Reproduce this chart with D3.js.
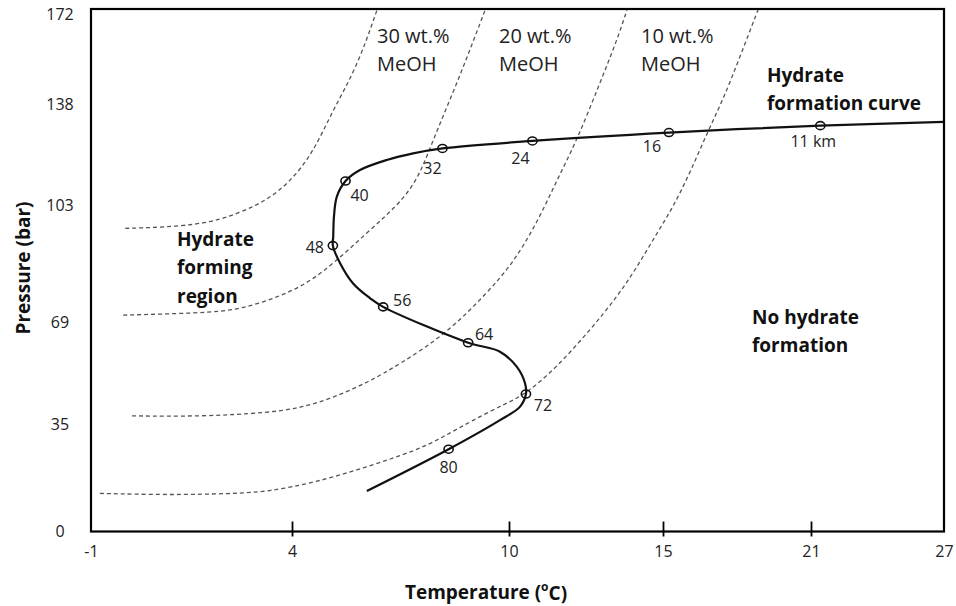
<!DOCTYPE html>
<html>
<head>
<meta charset="utf-8">
<script src="https://cdnjs.cloudflare.com/ajax/libs/d3/7.8.5/d3.min.js"></script>
<style>
  html, body { margin: 0; padding: 0; background: #fff; }
  svg { display: block; font-family: "Open Sans", sans-serif; }
</style>
</head>
<body>
<svg id="chart" width="956" height="606"></svg>
<script>
"use strict";

// tick values -- the temperature axis of the figure is not evenly spaced
const xTicks = [-1, 4, 10, 15, 21, 27]
const yTicks = [0, 35, 69, 103, 138, 172]

// hydrate formation curve along the line, deep end (80 km) first
const curveTemp = [6.07, 8.33, 9.75, 10.36, 10.55, 10.52, 10.25, 9.75, 8.87,
  6.52, 6.16, 5.69, 5.33, 5.13, 5.14, 5.16, 5.24, 5.48, 5.88, 6.62, 7.35, 8.16, 10.76, 15.24, 21.42, 27]
const curvePres = [13.2, 26.8, 36.3, 40.8, 45.0, 48.6, 54.1, 59.1, 62.1,
  73.4, 75.9, 80.2, 86.1, 91.2, 93.8, 99.6, 105.9, 111.3, 115.1, 118.6, 120.9, 122.6, 125.2, 128.1, 130.5, 131.8]

// distance markers on the curve
const markerLabels = ['80', '72', '64', '56', '48', '40', '32', '24', '16', '11 km']
const markerTemp = [8.33, 10.55, 8.87, 6.52, 5.13, 5.48, 8.16, 10.76, 15.24, 21.42]
const markerPres = [26.8, 45.0, 62.1, 73.4, 91.2, 111.3, 122.6, 125.2, 128.1, 130.5]

// methanol-inhibited hydrate lines (dashed), left to right
const dash1Temp = [-0.15, 1.71, 2.71, 3.38, 3.95, 4.58, 5.13, 5.80, 6.35]
const dash1Pres = [96.2, 96.9, 100.7, 104.7, 111.0, 121.0, 135.9, 152.0, 173.5]

const dash2Temp = [-0.20, 1.71, 2.71, 3.95, 4.86, 6.07, 7.18, 7.62, 7.90, 8.45, 8.92, 9.34]
const dash2Pres = [71.0, 71.6, 72.5, 77.4, 83.2, 94.9, 105.8, 116.2, 125.5, 142.2, 158.4, 173.5]

const dash3Temp = [0.02, 1.71, 3.38, 4.22, 5.13, 6.07, 6.99, 8.29, 9.39, 10.13, 10.91, 11.56, 12.21, 12.95, 13.51, 13.83]
const dash3Pres = [37.7, 37.5, 38.7, 40.3, 43.7, 48.7, 55.0, 65.3, 77.4, 86.1, 97.8, 111.7, 125.5, 145.9, 162.2, 173.5]

const dash4Temp = [-0.78, 0.97, 2.46, 3.38, 4.69, 6.07, 7.46, 8.17, 9.00, 9.94, 10.55, 11.56, 12.63,
  13.51, 14.16, 14.81, 15.41, 16.09, 16.82, 17.43, 18.12, 18.85]
const dash4Pres = [12.4, 11.9, 12.3, 12.9, 16.1, 21.0, 26.5, 30.7, 36.3, 42.0, 45.0, 54.0, 66.3,
  76.3, 85.0, 94.9, 102.4, 114.1, 128.6, 139.5, 155.8, 173.5]

const meohLabels = ['30 wt.%', '20 wt.%', '10 wt.%']
const regionLabels = [['Hydrate', 'forming', 'region'], ['No hydrate', 'formation'], ['Hydrate', 'formation curve']]

const xTitle = 'Temperature ('
const yTitle = 'Pressure (bar)'

const frame = { left: 91, top: 9, right: 944, bottom: 531.5 }

const svg = d3.select('#chart')

svg.append('rect')
  .attr('width', 956).attr('height', 606).attr('fill', '#fff')

const x = d3.scaleLinear()
  .domain(xTicks)
  .range([frame.left, 292, 509, 663, 811, frame.right])

const y = d3.scaleLinear()
  .domain(yTicks)
  .range([frame.bottom, 424, 322, 205, 104, 14])

svg.append('clipPath').attr('id', 'plot-clip')
  .append('rect')
    .attr('x', frame.left).attr('y', frame.top)
    .attr('width', frame.right - frame.left).attr('height', frame.bottom - frame.top)

const zip = (ts, ps) => ts.map((t, i) => [t, ps[i]])

const line = curve => d3.line()
  .x(d => x(d[0]))
  .y(d => y(d[1]))
  .curve(curve)

const plot = svg.append('g').attr('clip-path', 'url(#plot-clip)')

const dashed = [
  zip(dash1Temp, dash1Pres),
  zip(dash2Temp, dash2Pres),
  zip(dash3Temp, dash3Pres),
  zip(dash4Temp, dash4Pres),
]

plot.selectAll('path.meoh')
  .data(dashed)
  .join('path')
    .attr('class', 'meoh')
    .attr('d', line(d3.curveBasis))
    .attr('fill', 'none')
    .attr('stroke', '#555')
    .attr('stroke-width', 1.3)
    .attr('stroke-dasharray', '4,3')

plot.append('path')
  .datum(zip(curveTemp, curvePres))
  .attr('d', line(d3.curveCatmullRom.alpha(0.5)))
  .attr('fill', 'none')
  .attr('stroke', '#111')
  .attr('stroke-width', 2.2)

const markers = markerLabels.map((label, i) => ({ label, t: markerTemp[i], p: markerPres[i] }))

plot.selectAll('ellipse.marker')
  .data(markers)
  .join('ellipse')
    .attr('class', 'marker')
    .attr('cx', d => x(d.t))
    .attr('cy', d => y(d.p))
    .attr('rx', 4.6)
    .attr('ry', 4)
    .attr('fill', 'none')
    .attr('stroke', '#111')
    .attr('stroke-width', 1.6)

// where each depth label sits relative to its marker
const labelOffset = {
  '80': [0, 18], '72': [17, 11], '64': [16, -8], '56': [19, -6], '48': [-18, 2],
  '40': [14, 14], '32': [-10, 20], '24': [-12, 17], '16': [-17, 14], '11 km': [-7, 16],
}

svg.selectAll('text.depth')
  .data(markers)
  .join('text')
    .attr('class', 'depth')
    .attr('x', d => x(d.t) + labelOffset[d.label][0])
    .attr('y', d => y(d.p) + labelOffset[d.label][1])
    .attr('dy', '0.35em')
    .attr('text-anchor', 'middle')
    .attr('font-size', 16)
    .attr('fill', '#222')
    .text(d => d.label)

// frame
svg.append('rect')
  .attr('x', frame.left).attr('y', frame.top)
  .attr('width', frame.right - frame.left).attr('height', frame.bottom - frame.top)
  .attr('fill', 'none')
  .attr('stroke', '#000')
  .attr('stroke-width', 2.2)

// axes
const xAxis = svg.append('g')
  .attr('transform', `translate(0,${frame.bottom})`)
  .call(d3.axisBottom(x).tickValues(xTicks).tickFormat(d => String(d)).tickSize(5))

xAxis.select('.domain').remove()
xAxis.selectAll('.tick line')
  .attr('y1', -10)
  .attr('stroke', '#000')
  .attr('stroke-width', 1.8)
  .attr('display', d => (d === xTicks[0] || d === xTicks[xTicks.length - 1]) ? 'none' : null)
xAxis.selectAll('.tick text')
  .attr('y', 20)
  .attr('dy', '0.35em')
  .attr('font-size', 16)
  .attr('font-family', '"Open Sans", sans-serif')
  .attr('fill', '#222')

const yAxis = svg.append('g')
  .attr('transform', `translate(${frame.left},0)`)
  .call(d3.axisLeft(y).tickValues(yTicks).tickSize(0))

yAxis.select('.domain').remove()
yAxis.selectAll('.tick text')
  .attr('x', -31)
  .attr('text-anchor', 'middle')
  .attr('font-size', 16)
  .attr('font-family', '"Open Sans", sans-serif')
  .attr('fill', '#222')

// axis titles
const xt = svg.append('text')
  .attr('x', 486).attr('y', 592)
  .attr('dy', '0.35em')
  .attr('text-anchor', 'middle')
  .attr('font-size', 19)
  .attr('font-weight', 'bold')
  .attr('fill', '#111')
  .text(xTitle)
xt.append('tspan').attr('font-size', 12).attr('dy', '-0.6em').text('o')
xt.append('tspan').attr('dy', '0.45em').text('C)')

svg.append('text')
  .attr('transform', 'translate(23,268) rotate(-90)')
  .attr('dy', '0.35em')
  .attr('text-anchor', 'middle')
  .attr('font-size', 19)
  .attr('font-weight', 'bold')
  .attr('fill', '#111')
  .text(yTitle)

// methanol labels
const meohX = [377, 499, 641]
meohLabels.forEach((label, i) => {
  const t = svg.append('text')
    .attr('x', meohX[i]).attr('y', 36)
    .attr('dy', '0.35em')
    .attr('font-size', 20)
    .attr('fill', '#222')
  t.append('tspan').text(label)
  t.append('tspan').attr('x', meohX[i]).attr('dy', 27.5).text('MeOH')
})

// region labels
const regionPos = [[177, 239], [752, 317], [767, 75]]
regionLabels.forEach((lines, i) => {
  svg.append('text')
    .attr('x', regionPos[i][0]).attr('y', regionPos[i][1])
    .attr('font-size', 19)
    .attr('font-weight', 'bold')
    .attr('fill', '#111')
    .selectAll('tspan')
    .data(lines)
    .join('tspan')
      .attr('x', regionPos[i][0])
      .attr('y', (d, j) => regionPos[i][1] + j * 28.5)
      .attr('dy', '0.35em')
      .text(d => d)
})
</script>
</body>
</html>
